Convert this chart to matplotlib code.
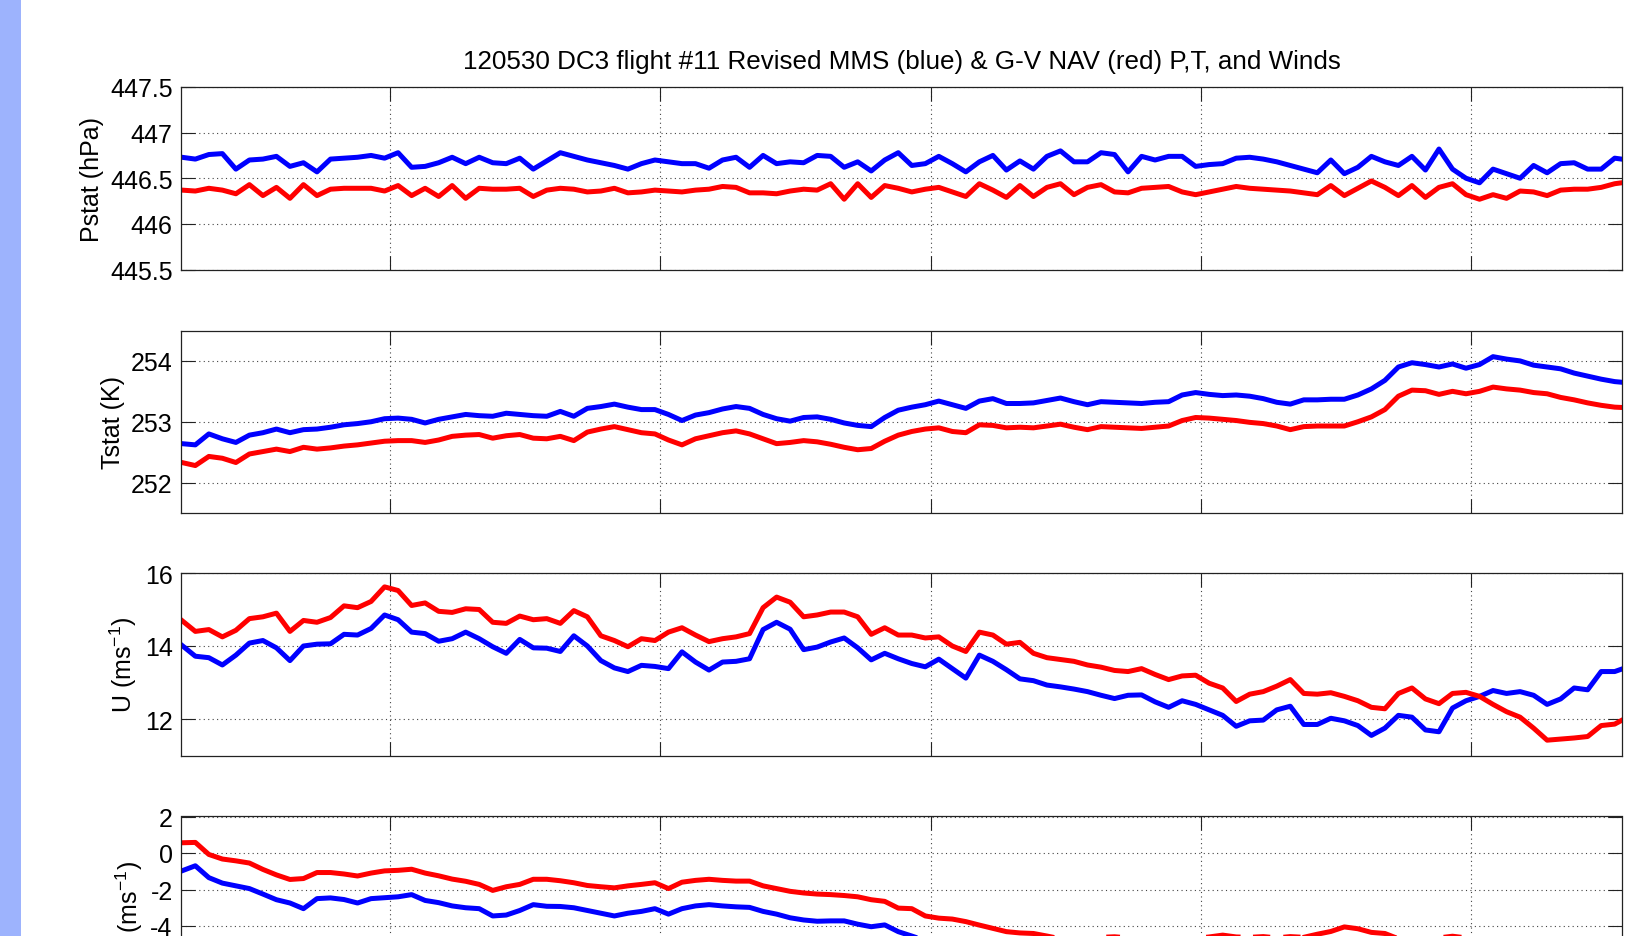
import numpy as np
import matplotlib
matplotlib.use("Agg")
import matplotlib.pyplot as plt
from matplotlib.patches import Rectangle
from matplotlib.ticker import FuncFormatter

# ---------------------------------------------------------------- data
# time axis (s), 5 s samples
time_s = np.arange(23, 559, 5)
x_ticks = [100, 200, 300, 400, 500]

# static pressure (hPa)
p_mms = [446.73, 446.71, 446.76, 446.77, 446.60, 446.70, 446.71, 446.74, 446.63, 446.67,
         446.57, 446.71, 446.72, 446.73, 446.75, 446.72, 446.78, 446.62, 446.63, 446.67,
         446.73, 446.66, 446.73, 446.67, 446.66, 446.72, 446.60, 446.69, 446.78, 446.74,
         446.70, 446.67, 446.64, 446.60, 446.66, 446.70, 446.68, 446.66, 446.66, 446.61,
         446.70, 446.73, 446.62, 446.75, 446.66, 446.68, 446.67, 446.75, 446.74, 446.62,
         446.68, 446.58, 446.70, 446.78, 446.64, 446.66, 446.74, 446.66, 446.57, 446.68,
         446.75, 446.59, 446.69, 446.60, 446.74, 446.80, 446.68, 446.68, 446.78, 446.76,
         446.57, 446.74, 446.70, 446.74, 446.74, 446.63, 446.65, 446.66, 446.72, 446.73,
         446.71, 446.68, 446.64, 446.60, 446.56, 446.70, 446.55, 446.62, 446.74, 446.68,
         446.64, 446.74, 446.59, 446.82, 446.60, 446.50, 446.45, 446.60, 446.55, 446.50,
         446.64, 446.56, 446.66, 446.67, 446.60, 446.60, 446.72, 446.70]
p_nav = [446.37, 446.36, 446.39, 446.37, 446.33, 446.43, 446.31, 446.40, 446.28, 446.43,
         446.31, 446.38, 446.39, 446.39, 446.39, 446.36, 446.42, 446.31, 446.39, 446.30,
         446.42, 446.28, 446.39, 446.38, 446.38, 446.39, 446.30, 446.37, 446.39, 446.38,
         446.35, 446.36, 446.39, 446.34, 446.35, 446.37, 446.36, 446.35, 446.37, 446.38,
         446.41, 446.40, 446.34, 446.34, 446.33, 446.36, 446.38, 446.37, 446.44, 446.27,
         446.44, 446.29, 446.42, 446.39, 446.35, 446.38, 446.40, 446.35, 446.30, 446.44,
         446.37, 446.29, 446.42, 446.30, 446.40, 446.44, 446.32, 446.40, 446.43, 446.35,
         446.34, 446.39, 446.40, 446.41, 446.35, 446.32, 446.35, 446.38, 446.41, 446.39,
         446.38, 446.37, 446.36, 446.34, 446.32, 446.42, 446.31, 446.39, 446.47, 446.40,
         446.31, 446.42, 446.29, 446.40, 446.44, 446.32, 446.27, 446.32, 446.28, 446.36,
         446.35, 446.31, 446.37, 446.38, 446.38, 446.40, 446.44, 446.46]

# static temperature (K)
t_mms = [252.64, 252.62, 252.80, 252.72, 252.66, 252.78, 252.82, 252.88, 252.82, 252.87,
         252.88, 252.91, 252.95, 252.97, 253.00, 253.05, 253.06, 253.04, 252.98, 253.04,
         253.08, 253.12, 253.10, 253.09, 253.14, 253.12, 253.10, 253.09, 253.17, 253.09,
         253.22, 253.25, 253.29, 253.24, 253.20, 253.20, 253.12, 253.02, 253.11, 253.15,
         253.21, 253.25, 253.22, 253.12, 253.05, 253.01, 253.07, 253.08, 253.04, 252.98,
         252.94, 252.92, 253.07, 253.19, 253.24, 253.28, 253.34, 253.28, 253.22, 253.34,
         253.38, 253.30, 253.30, 253.31, 253.35, 253.39, 253.33, 253.28, 253.33, 253.32,
         253.31, 253.30, 253.32, 253.33, 253.44, 253.48, 253.45, 253.43, 253.44, 253.42,
         253.38, 253.32, 253.29, 253.36, 253.36, 253.37, 253.37, 253.44, 253.54, 253.68,
         253.90, 253.97, 253.94, 253.90, 253.95, 253.88, 253.94, 254.07, 254.03, 254.00,
         253.93, 253.90, 253.87, 253.80, 253.75, 253.70, 253.66, 253.64]
t_nav = [252.33, 252.28, 252.43, 252.40, 252.33, 252.47, 252.51, 252.55, 252.51, 252.58,
         252.55, 252.57, 252.60, 252.62, 252.65, 252.68, 252.69, 252.69, 252.66, 252.70,
         252.76, 252.78, 252.79, 252.73, 252.77, 252.79, 252.73, 252.72, 252.76, 252.69,
         252.83, 252.88, 252.92, 252.87, 252.82, 252.80, 252.70, 252.62, 252.72, 252.77,
         252.82, 252.85, 252.80, 252.72, 252.64, 252.66, 252.69, 252.67, 252.63, 252.58,
         252.54, 252.56, 252.68, 252.78, 252.84, 252.88, 252.90, 252.84, 252.82, 252.95,
         252.94, 252.90, 252.91, 252.90, 252.93, 252.96, 252.91, 252.87, 252.92, 252.91,
         252.90, 252.89, 252.91, 252.93, 253.02, 253.07, 253.06, 253.04, 253.02, 252.99,
         252.97, 252.93, 252.87, 252.92, 252.93, 252.93, 252.93, 253.00, 253.08, 253.20,
         253.42, 253.52, 253.51, 253.45, 253.50, 253.46, 253.50, 253.57, 253.54, 253.52,
         253.48, 253.46, 253.40, 253.36, 253.31, 253.27, 253.24, 253.23]

# east-west wind U (m/s)
u_mms = [14.02, 13.72, 13.68, 13.48, 13.75, 14.08, 14.15, 13.95, 13.60, 14.00,
         14.05, 14.06, 14.32, 14.30, 14.48, 14.85, 14.72, 14.38, 14.34, 14.13,
         14.20, 14.38, 14.20, 13.98, 13.80, 14.18, 13.95, 13.94, 13.85, 14.28,
         14.00, 13.60, 13.40, 13.30, 13.47, 13.44, 13.38, 13.84, 13.56, 13.34,
         13.56, 13.58, 13.65, 14.45, 14.65, 14.46, 13.90, 13.97, 14.11, 14.22,
         13.95, 13.62, 13.80, 13.65, 13.52, 13.43, 13.64, 13.38, 13.12, 13.75,
         13.58, 13.35, 13.10, 13.05, 12.93, 12.88, 12.82, 12.75, 12.65, 12.56,
         12.65, 12.66, 12.47, 12.32, 12.50, 12.40, 12.25, 12.10, 11.80, 11.95,
         11.97, 12.25, 12.35, 11.85, 11.85, 12.02, 11.95, 11.82, 11.55, 11.75,
         12.10, 12.05, 11.70, 11.65, 12.30, 12.50, 12.62, 12.78, 12.70, 12.75,
         12.65, 12.40, 12.55, 12.85, 12.80, 13.30, 13.30, 13.43]
u_nav = [14.70, 14.40, 14.45, 14.25, 14.43, 14.75, 14.80, 14.90, 14.40, 14.70,
         14.65, 14.78, 15.10, 15.05, 15.22, 15.62, 15.52, 15.11, 15.18, 14.95,
         14.92, 15.02, 15.00, 14.65, 14.62, 14.82, 14.72, 14.75, 14.62, 14.97,
         14.80, 14.28, 14.15, 13.98, 14.20, 14.15, 14.38, 14.50, 14.30, 14.12,
         14.20, 14.25, 14.34, 15.05, 15.34, 15.20, 14.80, 14.85, 14.93, 14.93,
         14.80, 14.32, 14.50, 14.30, 14.30, 14.22, 14.25, 14.00, 13.85, 14.38,
         14.30, 14.05, 14.10, 13.80, 13.68, 13.63, 13.58, 13.48, 13.42, 13.33,
         13.30, 13.38, 13.22, 13.08, 13.18, 13.20, 12.98, 12.85, 12.48, 12.68,
         12.75, 12.90, 13.08, 12.70, 12.68, 12.72, 12.62, 12.50, 12.32, 12.28,
         12.70, 12.85, 12.55, 12.42, 12.70, 12.73, 12.62, 12.40, 12.20, 12.05,
         11.75, 11.42, 11.45, 11.48, 11.52, 11.82, 11.86, 12.06]

# north-south wind V (m/s)
v_mms = [-0.98, -0.70, -1.35, -1.65, -1.80, -1.95, -2.25, -2.56, -2.74, -3.05,
         -2.50, -2.46, -2.55, -2.74, -2.50, -2.45, -2.40, -2.28, -2.60, -2.72,
         -2.90, -3.00, -3.05, -3.45, -3.40, -3.15, -2.83, -2.92, -2.93, -3.00,
         -3.15, -3.30, -3.45, -3.30, -3.20, -3.05, -3.35, -3.05, -2.90, -2.83,
         -2.90, -2.95, -2.98, -3.20, -3.35, -3.55, -3.67, -3.74, -3.72, -3.72,
         -3.90, -4.04, -3.94, -4.31, -4.55, -4.80, -4.95, -5.00, -5.15, -5.35,
         -5.50, -5.70, -5.75, -5.80, -5.95, -6.05, -6.10, -6.05, -6.00, -5.95,
         -6.05, -6.10, -6.15, -6.10, -6.00, -6.05, -6.00, -5.90, -6.00, -6.00,
         -5.95, -6.05, -5.95, -6.00, -5.85, -5.70, -5.45, -5.55, -5.75, -5.80,
         -6.10, -6.20, -6.10, -6.05, -5.95, -6.05, -6.20, -6.30, -6.25, -6.35,
         -6.40, -6.30, -6.25, -6.30, -6.40, -6.35, -6.30, -6.25]
v_nav = [0.56, 0.58, -0.08, -0.33, -0.43, -0.55, -0.90, -1.20, -1.45, -1.40,
         -1.07, -1.07, -1.15, -1.26, -1.10, -0.98, -0.95, -0.89, -1.10, -1.25,
         -1.43, -1.55, -1.72, -2.05, -1.85, -1.72, -1.44, -1.44, -1.52, -1.63,
         -1.78, -1.85, -1.91, -1.80, -1.72, -1.63, -1.95, -1.60, -1.50, -1.44,
         -1.50, -1.54, -1.54, -1.80, -1.95, -2.10, -2.19, -2.25, -2.28, -2.33,
         -2.40, -2.56, -2.65, -3.02, -3.05, -3.45, -3.57, -3.62, -3.76, -3.95,
         -4.13, -4.31, -4.38, -4.41, -4.55, -4.70, -4.72, -4.65, -4.62, -4.59,
         -4.65, -4.70, -4.75, -4.69, -4.62, -4.68, -4.60, -4.50, -4.60, -4.62,
         -4.58, -4.65, -4.58, -4.62, -4.45, -4.30, -4.05, -4.15, -4.35, -4.41,
         -4.70, -4.80, -4.70, -4.65, -4.56, -4.65, -4.80, -4.90, -4.85, -4.95,
         -5.00, -4.90, -4.85, -4.90, -5.00, -4.95, -4.90, -4.85]

y_labels = ["Pstat (hPa)", "Tstat (K)", "U (ms$^{-1}$)", "V (ms$^{-1}$)"]
y_limits = [(445.5, 447.5), (251.5, 254.5), (11, 16), (-8, 2)]
y_ticks = [[445.5, 446, 446.5, 447, 447.5], [252, 253, 254], [12, 14, 16],
           [-8, -6, -4, -2, 0, 2]]
title = "120530 DC3 flight #11 Revised MMS (blue) & G-V NAV (red) P,T, and Winds"

# ---------------------------------------------------------------- style
plt.rcParams.update({
    "font.family": ["Liberation Sans", "DejaVu Sans"],
    "font.size": 18,
    "axes.unicode_minus": False,
    "mathtext.fontset": "custom",
    "mathtext.rm": "Liberation Sans",
    "mathtext.it": "Liberation Sans:italic",
    "mathtext.bf": "Liberation Sans:bold",
})

W, H = 1644, 937
fig = plt.figure(figsize=(W / 100, H / 100), dpi=100)
fig.patches.append(Rectangle((0, 0), 21 / W, 1, transform=fig.transFigure,
                             facecolor="#9db3fd", edgecolor="none", zorder=0))

left_px, right_px = 181, 1622
panel_h = 182.5
panel_tops = [88, 331.5, 574, 817.5]

series = [(p_mms, p_nav), (t_mms, t_nav), (u_mms, u_nav), (v_mms, v_nav)]
fmt = FuncFormatter(lambda v, pos: f"{v:g}")

axes = []
for i, top in enumerate(panel_tops):
    ax = fig.add_axes([left_px / W, 1 - (top + panel_h) / H,
                       (right_px - left_px) / W, panel_h / H])
    mms, nav = series[i]
    ax.plot(time_s, mms, color=(0, 0, 1), lw=3.6, solid_joinstyle="round")
    ax.plot(time_s, nav, color=(1, 0, 0), lw=3.6, solid_joinstyle="round")
    ax.set_xlim(22.7, 555.7)
    ax.set_xticks(x_ticks)
    ax.set_ylim(*y_limits[i])
    ax.set_yticks(y_ticks[i])
    ax.yaxis.set_major_formatter(fmt)
    ax.tick_params(direction="in", length=10, width=0.8, top=True, right=True,
                   labelbottom=False, pad=6, color="#222222")
    ax.grid(True, linestyle=(0, (1, 3)), color="#444444", lw=0.8)
    for sp in ax.spines.values():
        sp.set_color("#222222")
        sp.set_linewidth(0.9)
    ax.set_ylabel(y_labels[i], labelpad=4)
    axes.append(ax)

axes[0].set_title(title, fontsize=18.7, pad=14)
fig.align_ylabels(axes[2:])

fig.savefig("out.png", dpi=100)
